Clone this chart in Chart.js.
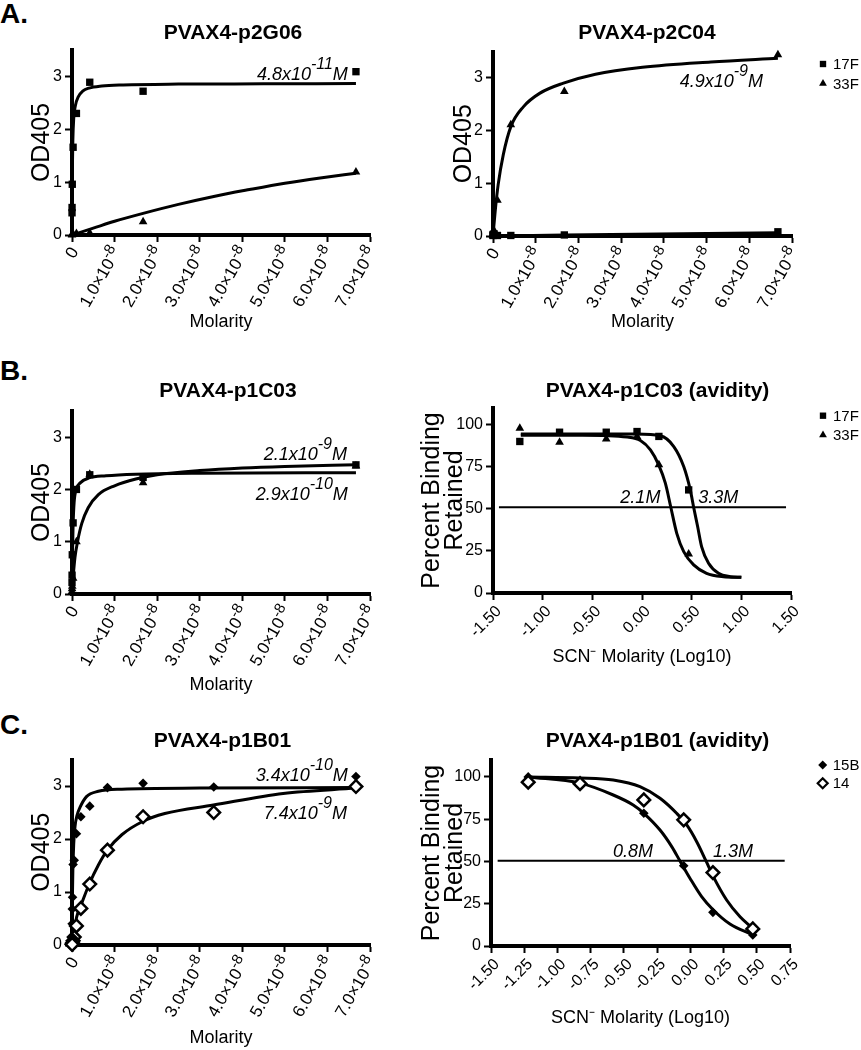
<!DOCTYPE html>
<html><head><meta charset="utf-8">
<script src="https://cdn.jsdelivr.net/npm/chart.js@4.4.1/dist/chart.umd.min.js"></script>
<style>
html,body{margin:0;padding:0;background:#fff;overflow:hidden}
#wrap{position:relative;width:861px;height:1050px;overflow:hidden;background:#fff}
#wrap canvas{position:absolute}
.plabel{position:absolute;left:0;font:bold 28px 'Liberation Sans',Arial,sans-serif;line-height:28px;color:#000}
</style></head>
<body><div id="wrap">
<div class="plabel" style="top:0px">A.</div>
<div class="plabel" style="top:357px">B.</div>
<div class="plabel" style="top:711px">C.</div>
<canvas id="pA1"></canvas><canvas id="pA2"></canvas>
<canvas id="pB1"></canvas><canvas id="pB2"></canvas>
<canvas id="pC1"></canvas><canvas id="pC2"></canvas>
</div>
<script>
// ===================== DATA =====================
// axis ticks
const yTicksOD = [0, 1, 2, 3];
const yLabelsOD = ['0', '1', '2', '3'];
const xTicksMolar = [0, 1e-8, 2e-8, 3e-8, 4e-8, 5e-8, 6e-8, 7e-8];
// [mantissa part, superscript exponent]
const xLabelsMolar = [['0', ''], ['1.0×10', '-8'], ['2.0×10', '-8'], ['3.0×10', '-8'], ['4.0×10', '-8'],
                      ['5.0×10', '-8'], ['6.0×10', '-8'], ['7.0×10', '-8']];
const yTicksPct = [0, 25, 50, 75, 100];
const yLabelsPct = ['0', '25', '50', '75', '100'];
const xTicksScnB = [-1.5, -1.0, -0.5, 0, 0.5, 1.0, 1.5];
const xLabelsScnB = ['-1.50', '-1.00', '-0.50', '0.00', '0.50', '1.00', '1.50'];
const xTicksScnC = [-1.5, -1.25, -1.0, -0.75, -0.5, -0.25, 0, 0.25, 0.5, 0.75];
const xLabelsScnC = ['-1.50', '-1.25', '-1.00', '-0.75', '-0.50', '-0.25', '0.00', '0.25', '0.50', '0.75'];

// A. PVAX4-p2G06 / PVAX4-p2C04 (4-fold dilution series, M)
const concA = [6.67e-8, 1.67e-8, 4.17e-9, 1.04e-9, 2.6e-10, 6.5e-11, 1.6e-11, 4.0e-12];
const p2G06_17F = [3.09, 2.72, 2.89, 2.30, 1.66, 0.96, 0.52, 0.42];
const p2G06_33F = [1.19, 0.25, 0.04, 0.03, 0.02, 0.01, 0.01, 0.00];
const p2G06_fit17F_x = [0, 5e-11, 1e-10, 2e-10, 4e-10, 8e-10, 1.5e-9, 2.5e-9, 4e-9, 7e-9, 1.2e-8, 2.5e-8, 4.5e-8, 6.67e-8];
const p2G06_fit17F_y = [0, 0.80, 1.30, 1.80, 2.20, 2.45, 2.62, 2.72, 2.78, 2.82, 2.84, 2.855, 2.86, 2.865];
const p2G06_fit33F_x = [0, 0.5e-8, 1.0e-8, 1.67e-8, 2.5e-8, 3.33e-8, 4.17e-8, 5.0e-8, 5.83e-8, 6.67e-8];
const p2G06_fit33F_y = [0, 0.13, 0.26, 0.41, 0.58, 0.73, 0.86, 0.98, 1.08, 1.17];

const p2C04_17F = [0.08, 0.02, 0.01, 0.01, 0.04, 0.03, 0.02, 0.01];
const p2C04_33F = [3.44, 2.74, 2.11, 0.68, 0.10, 0.04, 0.02, 0.01];
const p2C04_fit33F_x = [0, 5e-10, 1.2e-9, 2.4e-9, 4.2e-9, 7.1e-9, 1.1e-8, 1.65e-8, 2.4e-8, 3.5e-8, 5.1e-8, 6.67e-8];
const p2C04_fit33F_y = [0, 0.46, 0.97, 1.54, 2.08, 2.45, 2.71, 2.90, 3.07, 3.20, 3.30, 3.37];
const p2C04_fit17F_x = [0, 1.67e-8, 3.33e-8, 6.67e-8];
const p2C04_fit17F_y = [0, 0.02, 0.035, 0.06];

// B. PVAX4-p1C03
const p1C03_17F = [2.47, 2.23, 2.28, 2.00, 1.36, 0.75, 0.36, 0.22];
const p1C03_33F = [2.45, 2.13, 2.29, 1.00, 0.30, 0.15, 0.10, 0.05];
const p1C03_fitKd29_x = [0, 1e-10, 2.5e-10, 5e-10, 1e-9, 2e-9, 4e-9, 8e-9, 1.5e-8, 3e-8, 6.67e-8];
const p1C03_fitKd29_y = [0, 0.70, 1.30, 1.75, 2.00, 2.13, 2.22, 2.26, 2.29, 2.31, 2.32];
const p1C03_fitKd21_x = [0, 3e-10, 7e-10, 1.3e-9, 2.3e-9, 3.8e-9, 6.2e-9, 1e-8, 1.5e-8, 2e-8, 3e-8, 4e-8, 5e-8, 6.67e-8];
const p1C03_fitKd21_y = [0, 0.35, 0.70, 1.00, 1.35, 1.65, 1.90, 2.07, 2.20, 2.28, 2.36, 2.41, 2.44, 2.47];

// B. PVAX4-p1C03 (avidity)
const scnB = [-1.23, -0.83, -0.36, -0.05, 0.17, 0.47];
const p1C03av_17F = [90.1, 95.6, 95.6, 96.0, 93.1, 61.3];
const p1C03av_33F = [98.0, 89.7, 91.5, 93.1, 76.2, 23.2];
const p1C03av_fit17F_x = [-1.22, -0.6, -0.05, 0.185, 0.32, 0.42, 0.486, 0.52, 0.56, 0.60, 0.67, 0.77, 0.89, 1.0];
const p1C03av_fit17F_y = [94.5, 94.5, 94.5, 93.5, 87.1, 75.2, 61.3, 51.0, 39.5, 27.6, 17.7, 11.7, 9.7, 9.3];
const p1C03av_fit33F_x = [-1.22, -0.6, -0.149, -0.016, 0.085, 0.168, 0.235, 0.29, 0.35, 0.42, 0.52, 0.65, 0.82, 1.0];
const p1C03av_fit33F_y = [93.8, 93.8, 92.7, 90.7, 85.1, 76.2, 65.3, 51.0, 35.5, 24.6, 16.7, 11.7, 9.7, 9.3];
const p1C03av_half_x = [-1.44, 1.45];
const p1C03av_half_y = [51, 51];

// C. PVAX4-p1B01 (2-fold dilution series, M)
const concC = [6.67e-8, 3.33e-8, 1.67e-8, 8.33e-9, 4.17e-9, 2.08e-9, 1.04e-9, 5.2e-10, 2.6e-10, 1.3e-10, 6.5e-11, 3.3e-11];
const p1B01_15B = [3.18, 2.98, 3.05, 2.97, 2.62, 2.42, 2.10, 1.60, 1.52, 0.90, 0.68, 0.40];
const p1B01_14 = [2.99, 2.50, 2.42, 1.79, 1.15, 0.69, 0.36, 0.15, 0.08, 0.04, 0.02, 0.01];
const p1B01_fit15B_x = [0, 5e-11, 1e-10, 2e-10, 4e-10, 7e-10, 1.2e-9, 1.9e-9, 3.4e-9, 6.2e-9, 1.17e-8, 3e-8, 6.67e-8];
const p1B01_fit15B_y = [0, 0.45, 0.90, 1.40, 1.90, 2.23, 2.45, 2.60, 2.80, 2.90, 2.94, 2.96, 2.97];
const p1B01_fit14_x = [0, 5e-10, 1.1e-9, 2.3e-9, 4.1e-9, 6.2e-9, 8.3e-9, 1.17e-8, 1.66e-8, 2.18e-8, 3.32e-8, 4.96e-8, 6.67e-8];
const p1B01_fit14_y = [0, 0.25, 0.53, 0.79, 1.16, 1.51, 1.79, 2.08, 2.33, 2.48, 2.64, 2.86, 2.96];

// C. PVAX4-p1B01 (avidity)
const scnC = [-1.22, -0.83, -0.35, -0.05, 0.17, 0.47];
const p1B01av_15B = [100.0, 95.3, 78.5, 47.5, 19.9, 6.5];
const p1B01av_14 = [96.9, 96.0, 86.4, 74.6, 43.4, 10.1];
const p1B01av_fit15B_x = [-1.22, -0.83, -0.58, -0.43, -0.35, -0.228, -0.14, -0.078, -0.003, 0.085, 0.173, 0.298, 0.474];
const p1B01av_fit15B_y = [100, 96.3, 89.3, 83.4, 78.5, 68.6, 58.8, 50.3, 40.1, 29.2, 21.3, 13.0, 6.5];
const p1B01av_fit14_x = [-1.22, -0.83, -0.58, -0.379, -0.228, -0.103, -0.027, 0.048, 0.118, 0.173, 0.273, 0.374, 0.469];
const p1B01av_fit14_y = [100, 99.4, 98.2, 94.3, 87.4, 78.5, 71.6, 61.7, 50.3, 41.0, 27.2, 17.3, 10.5];
const p1B01av_half_x = [-1.45, 0.71];
const p1B01av_half_y = [50.4, 50.4];

// ===================== RENDERING =====================
const FONT = "'Liberation Sans', Arial, Helvetica, sans-serif";
Chart.defaults.font.family = FONT;
Chart.defaults.color = '#000';

const pts = (xs, ys) => xs.map((x, i) => ({x: x, y: ys[i]}));
const marks = (label, xs, ys, style, r, open) => ({
  label: label, data: pts(xs, ys), showLine: false, clip: false,
  pointStyle: style, pointRadius: r, pointHoverRadius: r,
  pointBackgroundColor: open ? '#fff' : '#000', pointBorderColor: '#000',
  pointBorderWidth: open ? 2.5 : 0
});
const curve = (label, xs, ys, w) => ({
  label: label, data: pts(xs, ys), showLine: true, pointRadius: 0, pointHoverRadius: 0,
  borderColor: '#000', borderWidth: w || 3, cubicInterpolationMode: 'monotone', fill: false
});

function drawMarker(ctx, style, x, y, r, open) {
  ctx.beginPath();
  if (style === 'rect') {
    const s = r * Math.SQRT1_2; ctx.rect(x - s, y - s, 2 * s, 2 * s);
  } else if (style === 'triangle') {
    for (let k = 0; k < 3; k++) {
      const a = k * 2 * Math.PI / 3;
      const px = x + Math.sin(a) * r, py = y - Math.cos(a) * r;
      if (k === 0) ctx.moveTo(px, py); else ctx.lineTo(px, py);
    }
    ctx.closePath();
  } else {
    ctx.moveTo(x - r, y); ctx.lineTo(x, y - r); ctx.lineTo(x + r, y); ctx.lineTo(x, y + r); ctx.closePath();
  }
  ctx.fillStyle = open ? '#fff' : '#000'; ctx.fill();
  if (open) { ctx.lineWidth = 2.2; ctx.strokeStyle = '#000'; ctx.stroke(); }
}

const annotate = {
  id: 'annotate',
  afterDraw(chart, args, opts) {
    const ctx = chart.ctx, sx = chart.scales.x, sy = chart.scales.y;
    ctx.save();
    ctx.fillStyle = '#000';
    // rotated x tick labels with true superscript exponents
    const rx = opts.richX;
    if (rx) {
      const th = rx.rot * Math.PI / 180;
      const f1 = rx.size + 'px ' + FONT, f2 = rx.supSize + 'px ' + FONT;
      rx.labels.forEach((lab, i) => {
        const px = sx.getPixelForValue(rx.ticks[i]);
        ctx.save();
        ctx.translate(px + rx.dx, chart.chartArea.bottom + rx.dy);
        ctx.rotate(-th);
        ctx.textBaseline = 'middle'; ctx.textAlign = 'left';
        ctx.font = f1; const w1 = ctx.measureText(lab[0]).width;
        ctx.font = f2; const w2 = lab[1] ? ctx.measureText(lab[1]).width : 0;
        let x = -(w1 + w2);
        ctx.font = f1; ctx.fillText(lab[0], x, 0);
        if (lab[1]) { ctx.font = f2; ctx.fillText(lab[1], x + w1, -rx.raise); }
        ctx.restore();
      });
    }
    ctx.textBaseline = 'alphabetic';
    (opts.texts || []).forEach(t => {
      const segs = t.parts.map(p => ({text: p[0], sup: !!p[1]}));
      const fontFor = s => 'italic ' + (s.sup ? 16 : 18) + 'px ' + FONT;
      let total = 0;
      segs.forEach(s => { ctx.font = fontFor(s); s.w = ctx.measureText(s.text).width; total += s.w; });
      let x = sx.getPixelForValue(t.x);
      const y = sy.getPixelForValue(t.y);
      if (t.align === 'right') x -= total;
      segs.forEach(s => { ctx.font = fontFor(s); ctx.fillStyle = '#000'; ctx.fillText(s.text, x, s.sup ? y - 11 : y); x += s.w; });
    });
    const lg = opts.legend;
    if (lg) {
      const area = chart.chartArea;
      lg.items.forEach((idx, i) => {
        const ds = chart.data.datasets[idx];
        const mx = area.right + lg.dx, my = area.top + lg.dy + i * lg.gap;
        const open = ds.pointBackgroundColor === '#fff';
        drawMarker(ctx, ds.pointStyle, mx, my, open ? 5 : 4.5, open);
        ctx.fillStyle = '#000';
        ctx.font = '15px ' + FONT;
        ctx.textBaseline = 'middle';
        ctx.fillText(ds.label, mx + 10, my + 1);
      });
    }
    ctx.restore();
  }
};

function makePanel(id, g, spec) {
  const cv = document.getElementById(id);
  cv.width = g.w; cv.height = g.h;
  cv.style.left = g.x + 'px'; cv.style.top = g.y + 'px';
  cv.style.width = g.w + 'px'; cv.style.height = g.h + 'px';
  const titleLH = 24, yLH = 23, xLH = 22;
  const rich = !!spec.richX;
  return new Chart(cv, {
    type: 'scatter',
    data: {datasets: spec.datasets},
    options: {
      responsive: false, animation: false, devicePixelRatio: 1, events: [],
      layout: {padding: 0},
      plugins: {
        legend: {display: false}, tooltip: {enabled: false},
        title: {
          display: true, text: spec.title, color: '#000',
          font: {size: 21, weight: 'bold', lineHeight: titleLH + 'px'},
          padding: {top: g.titleY - g.y - titleLH / 2, bottom: g.t - g.titleY - titleLH / 2}
        },
        annotate: {texts: spec.texts, legend: spec.legend, richX: spec.richX}
      },
      scales: {
        x: {
          type: 'linear', min: spec.xMin, max: spec.xMax,
          afterBuildTicks: s => { s.ticks = spec.xTicks.map(v => ({value: v})); },
          afterFit: s => { s.height = g.y + g.h - g.b; },
          ticks: {autoSkip: false, minRotation: spec.rot, maxRotation: spec.rot, padding: 2, labelOffset: spec.labelOffset || 0,
                  color: '#000', font: {size: 16},
                  callback: (v, i) => rich ? '' : spec.xLabels[i]},
          grid: {display: true, drawOnChartArea: false, drawTicks: true, tickLength: 7, tickWidth: 2, tickColor: '#000'},
          border: {display: true, width: 4, color: '#000'},
          title: {display: true, text: spec.xTitle, color: '#000', font: {size: 18, lineHeight: xLH + 'px'},
                  padding: {top: 0, bottom: Math.max(0, g.y + g.h - g.xTitleY - xLH / 2)}}
        },
        y: {
          type: 'linear', min: 0, max: spec.yMax,
          afterBuildTicks: s => { s.ticks = spec.yTicks.map(v => ({value: v})); },
          afterFit: s => { s.width = g.l - g.x; },
          ticks: {padding: 3, color: '#000', font: {size: 16}, callback: (v, i) => spec.yLabels[i]},
          grid: {display: true, drawOnChartArea: false, drawTicks: true, tickLength: 7, tickWidth: 2, tickColor: '#000'},
          border: {display: true, width: 4, color: '#000'},
          title: {display: true, text: spec.yTitle, color: '#000', font: {size: 25, lineHeight: yLH + 'px'},
                  padding: {top: g.yTitleX - g.x - yLH / 2, bottom: 0}}
        },
        // invisible spacer on the right so the full-width title is centred like the figure
        spacer: {
          type: 'linear', position: 'right', display: true,
          grid: {display: false}, border: {display: false}, ticks: {display: false},
          afterFit: s => { s.width = g.x + g.w - g.r; }
        }
      }
    },
    plugins: [annotate]
  });
}

const molarRich = {ticks: xTicksMolar, labels: xLabelsMolar, rot: 60, size: 17, supSize: 15, raise: 6, dx: 3, dy: 14};
const odAxes = {xMin: 0, xMax: 7e-8, xTicks: xTicksMolar, xLabels: xLabelsMolar, rot: 60, richX: molarRich,
  xTitle: 'Molarity', yMax: 3.5, yTicks: yTicksOD, yLabels: yLabelsOD, yTitle: 'OD405'};
const pctTitle = ['Percent Binding', 'Retained'];
const scnTitle = 'SCN⁻ Molarity (Log10)';

makePanel('pA1', {x: 0, y: 0, w: 466, h: 335, l: 72, r: 370, t: 50, b: 235, titleY: 33.3, yTitleX: 42.5, xTitleY: 322},
  Object.assign({}, odAxes, {
    title: 'PVAX4-p2G06',
    datasets: [
      marks('17F', concA, p2G06_17F, 'rect', 5.2),
      marks('33F', concA, p2G06_33F, 'triangle', 5),
      curve('17F fit', p2G06_fit17F_x, p2G06_fit17F_y),
      curve('33F fit', p2G06_fit33F_x, p2G06_fit33F_y)
    ],
    texts: [{x: 6.48e-8, y: 2.94, align: 'right', parts: [['4.8x10'], ['-11', 1], ['M']]}]
  }));

makePanel('pA2', {x: 433, y: 0, w: 428, h: 335, l: 493, r: 792, t: 51.5, b: 236, titleY: 33.3, yTitleX: 464, xTitleY: 322},
  Object.assign({}, odAxes, {
    title: 'PVAX4-p2C04',
    datasets: [
      marks('17F', concA, p2C04_17F, 'rect', 5.2),
      marks('33F', concA, p2C04_33F, 'triangle', 5),
      curve('17F fit', p2C04_fit17F_x, p2C04_fit17F_y),
      curve('33F fit', p2C04_fit33F_x, p2C04_fit33F_y)
    ],
    texts: [{x: 6.32e-8, y: 2.83, align: 'right', parts: [['4.9x10'], ['-9', 1], ['M']]}],
    legend: {items: [0, 1], dx: 31, dy: 12.5, gap: 19.5}
  }));

makePanel('pB1', {x: 0, y: 350, w: 456, h: 350, l: 72, r: 370, t: 411, b: 594, titleY: 391, yTitleX: 41.7, xTitleY: 685},
  Object.assign({}, odAxes, {
    title: 'PVAX4-p1C03',
    datasets: [
      marks('17F', concA, p1C03_17F, 'rect', 5.2),
      marks('33F', concA, p1C03_33F, 'triangle', 5),
      curve('Kd 2.1e-9 fit', p1C03_fitKd21_x, p1C03_fitKd21_y),
      curve('Kd 2.9e-10 fit', p1C03_fitKd29_x, p1C03_fitKd29_y)
    ],
    texts: [
      {x: 6.46e-8, y: 2.56, align: 'right', parts: [['2.1x10'], ['-9', 1], ['M']]},
      {x: 6.48e-8, y: 1.80, align: 'right', parts: [['2.9x10'], ['-10', 1], ['M']]}
    ]
  }));

makePanel('pB2', {x: 415, y: 350, w: 485, h: 320, l: 493, r: 791, t: 408, b: 593, titleY: 391.7, yTitleX: 432, xTitleY: 656.7},
  {
    title: 'PVAX4-p1C03 (avidity)',
    xMin: -1.5, xMax: 1.5, xTicks: xTicksScnB, xLabels: xLabelsScnB, rot: 45, labelOffset: 6, xTitle: scnTitle,
    yMax: 110, yTicks: yTicksPct, yLabels: yLabelsPct, yTitle: pctTitle,
    datasets: [
      marks('17F', scnB, p1C03av_17F, 'rect', 5.2),
      marks('33F', scnB, p1C03av_33F, 'triangle', 5),
      curve('17F fit', p1C03av_fit17F_x, p1C03av_fit17F_y),
      curve('33F fit', p1C03av_fit33F_x, p1C03av_fit33F_y),
      curve('50%', p1C03av_half_x, p1C03av_half_y, 2)
    ],
    texts: [
      {x: 0.185, y: 53.4, align: 'right', parts: [['2.1M']]},
      {x: 0.566, y: 53.4, align: 'left', parts: [['3.3M']]}
    ],
    legend: {items: [0, 1], dx: 32, dy: 7.7, gap: 19.3}
  });

makePanel('pC1', {x: 0, y: 700, w: 445, h: 350, l: 72, r: 370, t: 759.5, b: 945, titleY: 741, yTitleX: 41.7, xTitleY: 1038},
  Object.assign({}, odAxes, {
    title: 'PVAX4-p1B01',
    datasets: [
      marks('14', concC, p1B01_14, 'rectRot', 6.3, true),
      marks('15B', concC, p1B01_15B, 'rectRot', 4.8),
      curve('15B fit', p1B01_fit15B_x, p1B01_fit15B_y),
      curve('14 fit', p1B01_fit14_x, p1B01_fit14_y)
    ],
    texts: [
      {x: 6.48e-8, y: 3.09, align: 'right', parts: [['3.4x10'], ['-10', 1], ['M']]},
      {x: 6.46e-8, y: 2.38, align: 'right', parts: [['7.4x10'], ['-9', 1], ['M']]}
    ]
  }));

makePanel('pC2', {x: 415, y: 700, w: 485, h: 330, l: 491, r: 790, t: 760, b: 946, titleY: 741.7, yTitleX: 432, xTitleY: 1018.3},
  {
    title: 'PVAX4-p1B01 (avidity)',
    xMin: -1.5, xMax: 0.75, xTicks: xTicksScnC, xLabels: xLabelsScnC, rot: 45, labelOffset: 6, xTitle: scnTitle,
    yMax: 110, yTicks: yTicksPct, yLabels: yLabelsPct, yTitle: pctTitle,
    datasets: [
      marks('14', scnC, p1B01av_14, 'rectRot', 6.3, true),
      marks('15B', scnC, p1B01av_15B, 'rectRot', 4.8),
      curve('15B fit', p1B01av_fit15B_x, p1B01av_fit15B_y),
      curve('14 fit', p1B01av_fit14_x, p1B01av_fit14_y),
      curve('50%', p1B01av_half_x, p1B01av_half_y, 2)
    ],
    texts: [
      {x: -0.281, y: 52.8, align: 'right', parts: [['0.8M']]},
      {x: 0.17, y: 52.8, align: 'left', parts: [['1.3M']]}
    ],
    legend: {items: [1, 0], dx: 32.7, dy: 5, gap: 18.3}
  });
</script>
</body></html>
